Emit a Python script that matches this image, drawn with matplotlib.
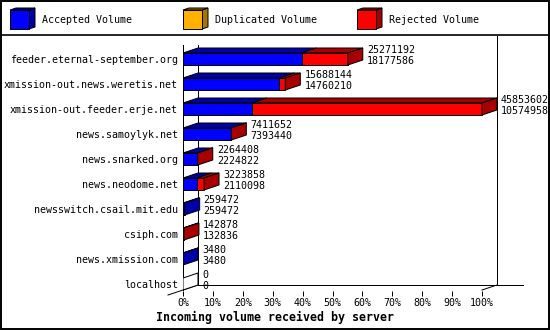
'''
Incoming news volume per peer server, drawn as 3D-style horizontal stacked bars
(accepted / duplicated / rejected), scaled to the largest server = 100%.
'''

import matplotlib
matplotlib.use('Agg')
import matplotlib.pyplot as plt
from matplotlib.patches import Polygon, Rectangle

servers = ['feeder.eternal-september.org', 'xmission-out.news.weretis.net',
           'xmission-out.feeder.erje.net', 'news.samoylyk.net', 'news.snarked.org',
           'news.neodome.net', 'newsswitch.csail.mit.edu', 'csiph.com',
           'news.xmission.com', 'localhost']
total_volume = [25271192, 15688144, 45853602, 7411652, 2264408,
                3223858, 259472, 142878, 3480, 0]
accepted_volume = [18177586, 14760210, 10574958, 7393440, 2224822,
                   2110098, 259472, 132836, 3480, 0]
duplicated_volume = [0, 0, 0, 0, 0, 0, 0, 0, 0, 0]
pct_ticks = [0, 10, 20, 30, 40, 50, 60, 70, 80, 90, 100]
legend_labels = ['Accepted Volume', 'Duplicated Volume', 'Rejected Volume']
x_title = 'Incoming volume received by server'

# colours: front face / shaded (top + side) face
FRONT = {'accepted': '#0000ff', 'duplicated': '#ffb000', 'rejected': '#ff0000'}
SHADE = {'accepted': '#0000a8', 'duplicated': '#a87400', 'rejected': '#a80000'}

W, H = 550, 330
PX_PER_PCT = 2.99      # pixels per percent on the front plane
ROW_PX = 25            # pixels between rows
DX = 15 / PX_PER_PCT   # 3D depth, horizontal (in %)
DY = 5 / ROW_PX        # 3D depth, vertical (in rows)
HALF = 6 / ROW_PX      # half bar height (in rows)
LW = 0.72
FONT = 'DejaVu Sans Mono'
FS = 7.2


def px_x(px):
    return (px - 183) / PX_PER_PCT


def px_y(px):
    return (px - 59) / ROW_PX


def draw_bar(ax, i, segments, total_pct):
    x0 = 0.0
    last = None
    for val, key in segments:
        if val <= 0:
            continue
        ax.add_patch(Rectangle((x0, i - HALF), val, 2 * HALF, fc=FRONT[key],
                               ec='black', lw=LW, zorder=3))
        top = [(x0, i - HALF), (x0 + val, i - HALF),
               (x0 + val + DX, i - HALF - DY), (x0 + DX, i - HALF - DY)]
        ax.add_patch(Polygon(top, closed=True, fc=SHADE[key], ec='black', lw=LW, zorder=3))
        x0 += val
        last = key
    side = [(x0, i - HALF), (x0, i + HALF), (x0 + DX, i + HALF - DY), (x0 + DX, i - HALF - DY)]
    ax.add_patch(Polygon(side, closed=True, fc=SHADE[last] if last else 'white',
                         ec='black', lw=LW, zorder=3))


fig = plt.figure(figsize=(W / 100, H / 100), dpi=100)

# frame + legend layer in pixel units
bg = fig.add_axes([0, 0, 1, 1])
bg.set_xlim(0, W)
bg.set_ylim(H, 0)
bg.axis('off')
bg.add_patch(Rectangle((0.75, 0.75), W - 1.5, H - 1.5, fill=False, ec='black', lw=1.4))
bg.plot([0, W], [35, 35], color='black', lw=1.2)

legend_x = [10, 183, 357]
for lx, label, key in zip(legend_x, legend_labels, ['accepted', 'duplicated', 'rejected']):
    bg.add_patch(Polygon([(lx + 19, 10), (lx + 19, 29), (lx + 25, 27), (lx + 25, 8)],
                         closed=True, fc=SHADE[key], ec='black', lw=LW))
    bg.add_patch(Polygon([(lx, 10), (lx + 19, 10), (lx + 25, 8), (lx + 6, 8)],
                         closed=True, fc=SHADE[key], ec='black', lw=LW))
    bg.add_patch(Rectangle((lx, 10), 19, 19, fc=FRONT[key], ec='black', lw=LW))
    bg.text(lx + 32, 20, label, family=FONT, fontsize=FS, va='center', ha='left')

bg.text(W / 2, 317, x_title, family=FONT, fontsize=8.4, fontweight='bold',
        va='center', ha='center')

# main chart
ax = fig.add_axes([183 / W, 1 - 291 / H, (523 - 183) / W, (291 - 36) / H])
ax.patch.set_alpha(0)
ax.set_xlim(0, px_x(523))
ax.set_ylim(px_y(291), px_y(36))
for s in ax.spines.values():
    s.set_visible(False)

frame_kw = dict(color='black', lw=LW, zorder=1, clip_on=False)
ax.plot([0, 0], [px_y(45), px_y(290)], **frame_kw)
ax.plot([DX, DX], [px_y(45), px_y(285)], **frame_kw)
ax.plot([100 + DX, 100 + DX], [px_y(36), px_y(285)], **frame_kw)
ax.plot([DX, px_x(523)], [px_y(285), px_y(285)], **frame_kw)
ax.plot([DX, -DX], [px_y(285), px_y(295)], **frame_kw)
ax.plot([100, 100 + DX], [px_y(290), px_y(285)], **frame_kw)

max_total = max(total_volume)
for i, (tot, acc, dup) in enumerate(zip(total_volume, accepted_volume, duplicated_volume)):
    acc_pct = acc / max_total * 100
    dup_pct = dup / max_total * 100
    rej_pct = (tot - acc - dup) / max_total * 100
    tot_pct = tot / max_total * 100
    draw_bar(ax, i, [(acc_pct, 'accepted'), (dup_pct, 'duplicated'), (rej_pct, 'rejected')], tot_pct)
    ax.text(tot_pct + DX + 4 / PX_PER_PCT, i - 0.14, f'{tot}\n{acc}', family=FONT,
            fontsize=FS, va='center', ha='left', linespacing=1.05, zorder=4, clip_on=False)

ax.set_xticks(pct_ticks)
ax.set_xticklabels([f'{p}%' for p in pct_ticks], family=FONT, fontsize=FS)
ax.set_yticks(range(len(servers)))
ax.set_yticklabels(servers, family=FONT, fontsize=FS)
ax.tick_params(axis='x', direction='out', length=3.6, width=LW, pad=1.2)
ax.tick_params(axis='y', length=0, pad=3.6)

fig.savefig('out.png', dpi=100)
